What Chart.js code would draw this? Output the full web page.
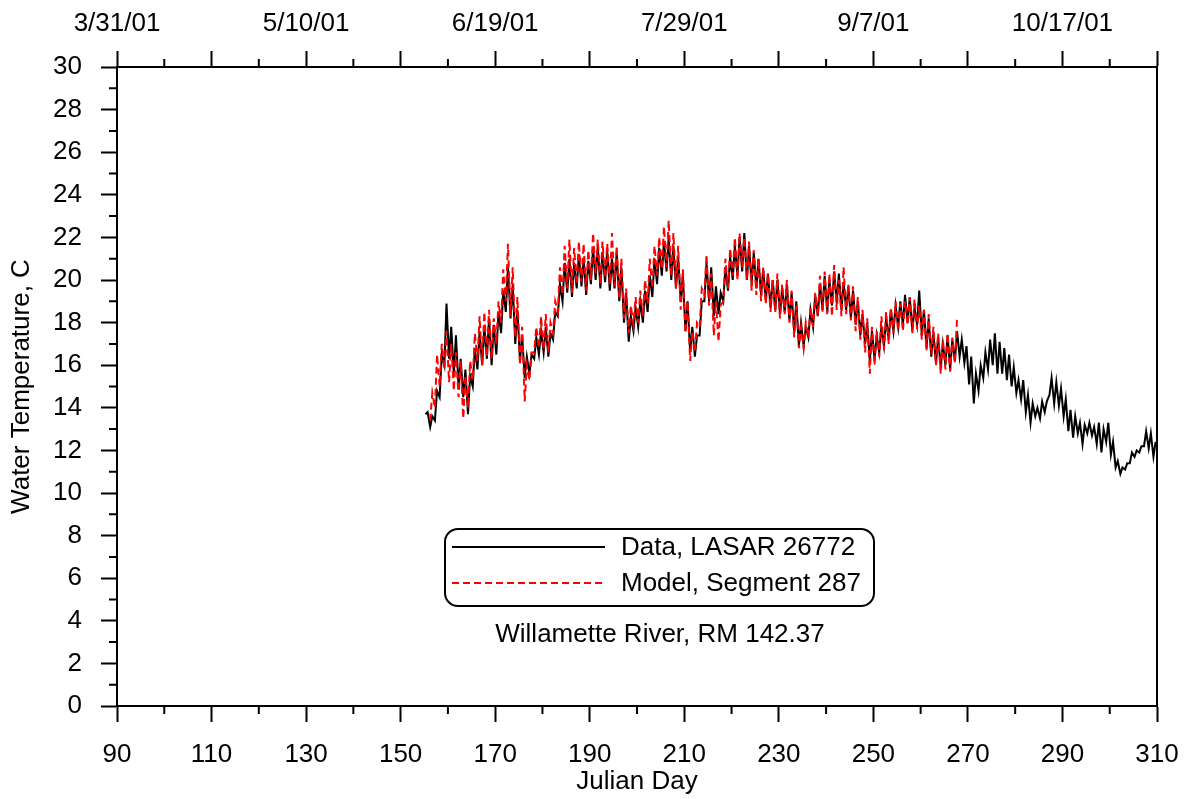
<!DOCTYPE html>
<html>
<head>
<meta charset="utf-8">
<title>Willamette River, RM 142.37</title>
<script src="https://cdn.jsdelivr.net/npm/chart.js@4.4.0/dist/chart.umd.min.js"></script>
<style>
  html, body { margin: 0; padding: 0; background: #fff; }
  #wrap { width: 1188px; height: 799px; }
</style>
</head>
<body>
<div id="wrap"><canvas id="tempChart" width="1188" height="799"></canvas></div>
<script>
// --- data (daily low / daily high, deg C) ---
const dataFirstDay = 155;   // Data, LASAR 26772
const dataMin = [
  13.7,13.1,13.4,14.5,16.0,16.3,15.6,15.0,14.5,13.7,
  15.0,15.8,16.0,16.3,16.0,16.5,17.5,18.5,18.2,17.0,
  16.2,15.4,15.6,16.3,16.5,16.6,16.4,17.2,18.3,19.0,
  19.4,19.2,19.6,19.7,19.3,19.8,20.0,19.6,19.9,19.5,
  19.6,19.0,18.0,17.1,17.6,17.8,18.0,18.5,19.2,19.8,
  20.2,20.4,20.0,19.6,19.0,17.6,16.6,16.4,17.4,19.0,
  19.0,18.3,18.4,19.0,19.5,20.0,20.2,20.4,20.0,19.8,
  19.6,19.3,19.0,18.7,18.6,18.4,18.5,18.1,17.6,16.9,
  16.9,17.3,17.8,18.3,18.6,18.5,18.8,18.9,18.6,18.6,
  18.2,17.9,17.4,17.0,16.2,16.3,16.6,16.9,17.2,17.6,
  17.8,17.9,18.0,17.6,17.9,17.4,16.8,16.4,16.1,15.9,
  16.0,15.8,16.2,16.4,16.1,15.1,14.2,14.8,15.4,15.8,
  16.0,15.6,15.6,15.3,15.0,14.7,14.4,13.8,13.3,13.6,
  13.5,13.8,14.6,14.2,14.1,13.6,12.9,12.6,12.8,12.3,
  12.8,12.7,12.3,11.9,12.4,11.8,11.2,10.9,11.1,11.4,
  11.7,11.9,12.2,12.1,11.7
];
const dataMax = [
  13.8,13.6,14.8,16.5,18.9,17.8,17.4,16.3,15.8,15.5,
  16.8,17.6,17.8,18.2,17.9,18.5,19.5,20.6,19.8,18.6,
  17.4,16.4,16.5,17.3,17.6,17.8,17.5,18.5,19.8,20.8,
  21.0,20.8,21.2,21.0,20.9,21.5,21.6,21.3,21.4,21.0,
  21.3,20.6,19.4,18.3,18.7,19.0,19.5,20.2,21.0,21.5,
  21.8,22.0,21.6,21.1,20.2,19.0,17.8,17.4,19.0,20.8,
  20.6,19.7,19.4,20.6,21.1,21.6,22.0,22.2,21.6,21.3,
  21.0,20.5,20.3,20.0,20.0,19.6,19.8,19.4,19.0,18.0,
  17.8,18.6,19.3,19.8,20.2,20.0,20.4,20.3,19.9,19.7,
  19.5,19.0,18.4,18.0,17.6,17.4,17.8,18.2,18.6,18.8,
  19.0,19.3,19.2,18.7,19.5,18.6,18.2,17.5,17.3,17.0,
  17.4,17.2,17.6,17.2,16.9,16.4,15.6,16.0,16.6,17.2,
  17.5,17.1,16.8,16.5,15.9,15.3,15.3,14.6,14.2,14.0,
  14.3,14.3,15.4,15.2,14.9,14.4,13.9,13.6,13.3,13.2,
  13.3,13.1,13.3,13.0,13.3,12.4,11.5,11.2,11.4,11.9,
  12.0,12.2,12.9,12.8,12.4
];

const modelFirstDay = 156;  // Model, Segment 287
const modelMin = [
  13.4,14.0,15.0,15.8,15.2,14.8,14.5,13.5,14.0,15.3,
  16.2,16.0,16.4,16.3,17.0,18.0,19.0,18.3,17.3,16.0,
  14.3,15.3,16.6,16.8,16.7,16.6,17.5,18.5,19.3,19.6,
  19.4,19.8,19.9,19.5,20.0,20.3,19.8,20.1,19.8,19.7,
  19.2,18.2,17.5,17.9,18.0,18.3,18.9,19.6,20.2,20.5,
  20.6,20.2,19.6,18.6,17.5,16.2,16.6,17.8,19.3,18.8,
  17.4,17.1,19.0,19.6,20.2,20.0,20.6,20.0,19.5,19.3,
  19.0,18.9,18.5,18.5,18.2,18.4,18.0,17.3,16.8,16.8,
  17.3,17.8,18.3,18.5,18.4,18.3,18.6,18.3,18.4,18.1,
  17.6,17.2,16.6,15.6,16.0,16.4,16.7,17.0,17.5,17.6,
  17.6,17.9,17.5,17.7,17.2,16.7,16.5,16.0,15.6,15.8,
  15.7,16.1
];
const modelMax = [
  14.7,16.5,17.0,17.6,17.0,16.6,16.2,15.5,16.2,17.5,
  18.3,18.5,18.6,18.2,19.0,20.5,21.7,20.6,19.2,17.8,
  16.0,16.6,17.8,18.3,18.4,18.0,19.0,20.6,21.6,21.9,
  21.5,21.8,21.7,21.4,22.2,21.9,21.8,21.7,22.2,21.6,
  21.0,19.6,18.8,19.2,19.5,20.0,21.0,21.6,22.0,22.5,
  22.8,22.2,21.6,20.5,19.0,17.6,18.0,19.6,21.2,20.3,
  19.0,18.8,21.0,21.5,22.0,22.2,22.0,21.8,21.4,21.0,
  20.6,20.3,20.0,20.3,19.8,20.0,19.5,18.8,17.8,18.0,
  18.7,19.4,20.2,20.4,20.3,20.7,20.0,20.6,19.8,19.7,
  19.2,18.6,18.2,17.8,17.6,18.3,18.5,18.7,19.0,18.9,
  19.0,19.2,19.1,18.8,18.6,18.4,17.8,17.5,17.2,17.5,
  17.3,18.2
];

// --- axes ---
const xTickValues = [90,110,130,150,170,190,210,230,250,270,290,310];
const xMinorTicks = [100,120,140,160,180,200,220,240,260,280,300];
const topTickValues = xTickValues;
const topLabelDays = [90,130,170,210,250,290];
const topLabels = ['3/31/01','5/10/01','6/19/01','7/29/01','9/7/01','10/17/01'];
const yTickValues = [0,2,4,6,8,10,12,14,16,18,20,22,24,26,28,30];
const yMinorTicks = [1,3,5,7,9,11,13,15,17,19,21,23,25,27,29];

// low early in the day, high late afternoon
function dailyPoints(firstDay, lows, highs) {
  const pts = [];
  lows.forEach((lo, i) => {
    pts.push({ x: firstDay + i + 0.25, y: lo });
    pts.push({ x: firstDay + i + 0.7, y: highs[i] });
  });
  return pts;
}

Chart.defaults.font.family = "'Liberation Sans', Arial, sans-serif";
Chart.defaults.font.size = 26;
Chart.defaults.color = '#000';

const axisGrid = { drawOnChartArea: false, drawTicks: true, tickLength: 16, tickWidth: 2, tickColor: '#000' };
const axisBorder = { display: true, color: '#000', width: 2 };

// keep the plot box fixed, labels may hang over the edges
function fixHeight(h) {
  return s => { s.height = h; s.paddingLeft = 0; s.paddingRight = 0; };
}

const frameAndLegend = {
  id: 'frameAndLegend',
  afterDraw(chart) {
    const { ctx, chartArea: a, scales } = chart;
    ctx.save();
    ctx.strokeStyle = '#000';
    ctx.lineWidth = 2;
    ctx.setLineDash([]);
    ctx.beginPath();
    ctx.moveTo(a.right, a.top - 1);
    ctx.lineTo(a.right, a.bottom + 1);
    xMinorTicks.forEach(v => {
      const px = scales.x.getPixelForValue(v);
      ctx.moveTo(px, a.bottom);
      ctx.lineTo(px, a.bottom + 8);
      const pt = scales.x2.getPixelForValue(v);
      ctx.moveTo(pt, a.top);
      ctx.lineTo(pt, a.top - 8);
    });
    yMinorTicks.forEach(v => {
      const py = scales.y.getPixelForValue(v);
      ctx.moveTo(a.left, py);
      ctx.lineTo(a.left - 8, py);
    });
    ctx.stroke();

    // legend box
    const bx = 445, by = 529, bw = 429, bh = 77, r = 13;
    ctx.beginPath();
    ctx.moveTo(bx + r, by);
    ctx.arcTo(bx + bw, by, bx + bw, by + bh, r);
    ctx.arcTo(bx + bw, by + bh, bx, by + bh, r);
    ctx.arcTo(bx, by + bh, bx, by, r);
    ctx.arcTo(bx, by, bx + bw, by, r);
    ctx.closePath();
    ctx.fillStyle = '#fff';
    ctx.fill();
    ctx.lineWidth = 2;
    ctx.stroke();

    const rows = [
      { ds: chart.data.datasets[1], y: 547 },
      { ds: chart.data.datasets[0], y: 583 }
    ];
    ctx.font = "26px 'Liberation Sans', Arial, sans-serif";
    ctx.textBaseline = 'middle';
    ctx.textAlign = 'left';
    rows.forEach(row => {
      ctx.beginPath();
      ctx.strokeStyle = row.ds.borderColor;
      ctx.lineWidth = row.ds.borderWidth;
      ctx.setLineDash(row.ds.borderDash || []);
      ctx.moveTo(452, row.y);
      ctx.lineTo(605, row.y);
      ctx.stroke();
      ctx.setLineDash([]);
      ctx.fillStyle = '#000';
      ctx.fillText(row.ds.label, 621, row.y + 1);
    });

    ctx.textAlign = 'center';
    ctx.fillText('Willamette River, RM 142.37', 660, 635);
    ctx.restore();
  }
};

new Chart(document.getElementById('tempChart'), {
  type: 'line',
  data: {
    datasets: [
      {
        label: 'Model, Segment 287',
        data: dailyPoints(modelFirstDay, modelMin, modelMax),
        borderColor: '#ff0000',
        borderWidth: 2,
        borderDash: [7, 4],
        pointRadius: 0,
        tension: 0,
        fill: false,
        order: 1
      },
      {
        label: 'Data, LASAR 26772',
        data: dailyPoints(dataFirstDay, dataMin, dataMax),
        borderColor: '#000000',
        borderWidth: 2,
        pointRadius: 0,
        tension: 0,
        fill: false,
        order: 2
      }
    ]
  },
  options: {
    responsive: false,
    animation: false,
    devicePixelRatio: 1,
    parsing: false,
    layout: { padding: { left: 0, right: 31, top: 0, bottom: 0 } },
    plugins: { legend: { display: false }, tooltip: { enabled: false } },
    scales: {
      x: {
        type: 'linear', position: 'bottom', min: 90, max: 310,
        afterBuildTicks: s => { s.ticks = xTickValues.map(v => ({ value: v })); },
        afterFit: fixHeight(93),
        ticks: { padding: 17, autoSkip: false, maxRotation: 0 },
        grid: axisGrid, border: axisBorder,
        title: { display: true, text: 'Julian Day', padding: { top: 0, bottom: 2 } }
      },
      x2: {
        type: 'linear', position: 'top', min: 90, max: 310,
        afterBuildTicks: s => { s.ticks = topTickValues.map(v => ({ value: v })); },
        afterFit: fixHeight(67),
        ticks: {
          padding: 12, autoSkip: false, maxRotation: 0,
          callback: v => { const i = topLabelDays.indexOf(v); return i >= 0 ? topLabels[i] : ''; }
        },
        grid: axisGrid, border: axisBorder
      },
      y: {
        type: 'linear', position: 'left', min: 0, max: 30,
        afterBuildTicks: s => { s.ticks = yTickValues.map(v => ({ value: v })); },
        afterFit: s => { s.width = 117; s.paddingTop = 0; s.paddingBottom = 0; },
        ticks: { padding: 19, autoSkip: false },
        grid: axisGrid, border: axisBorder,
        title: { display: true, text: 'Water Temperature, C', padding: { top: 6, bottom: 0 } }
      }
    }
  },
  plugins: [frameAndLegend]
});
</script>
</body>
</html>
